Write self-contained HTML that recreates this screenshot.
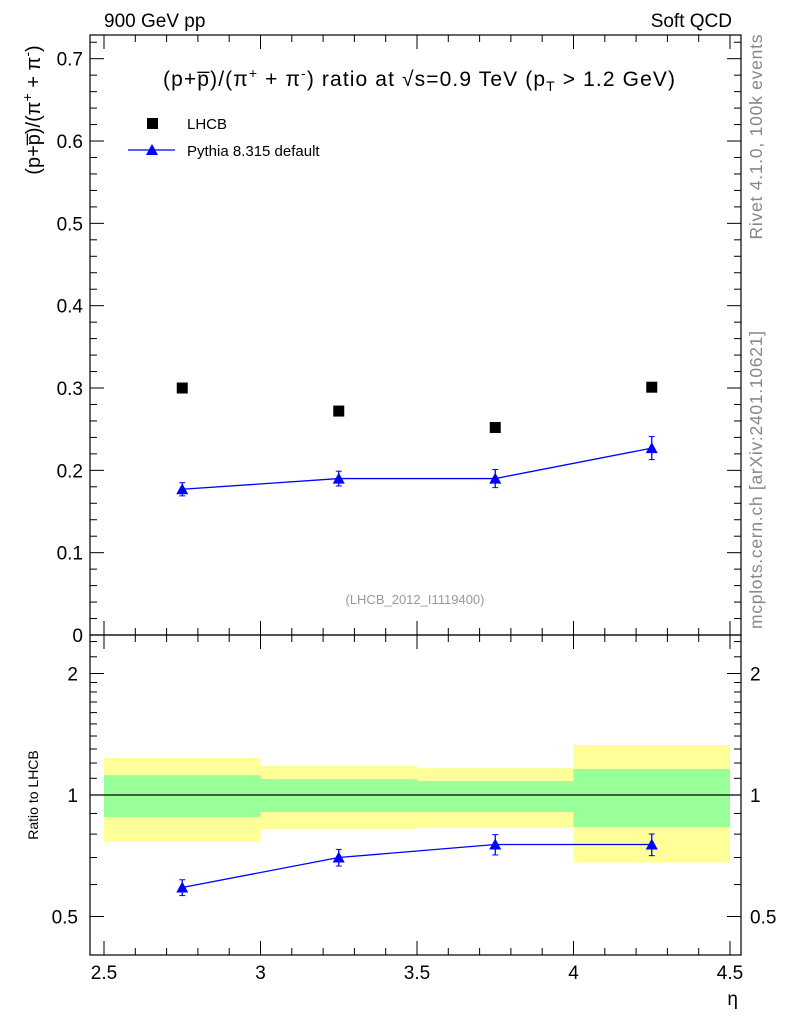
<!DOCTYPE html>
<html><head><meta charset="utf-8"><style>
body{margin:0;background:#fff;}
svg{display:block;font-family:"Liberation Sans",sans-serif;}
</style></head><body>
<svg id="chart" width="786" height="1024" viewBox="0 0 786 1024">
<text x="104" y="27" font-size="19">900 GeV pp</text>
<text x="732" y="27" font-size="19" text-anchor="end">Soft QCD</text>
<text transform="translate(762,137) rotate(-90)" font-size="17.5" fill="#888" text-anchor="middle" textLength="205">Rivet 4.1.0,  100k events</text>
<text transform="translate(762,480) rotate(-90)" font-size="17.5" fill="#888" text-anchor="middle" textLength="298">mcplots.cern.ch [arXiv:2401.10621]</text>
<text x="415" y="604" font-size="13" fill="#999" text-anchor="middle">(LHCB_2012_I1119400)</text>
<text x="163" y="86" font-size="21" textLength="512" lengthAdjust="spacing">(p+p̅)/(π<tspan font-size="14" dy="-8">+</tspan><tspan dy="8"> + π</tspan><tspan font-size="14" dy="-8">-</tspan><tspan dy="8">) ratio at √s=0.9 TeV (p</tspan><tspan font-size="14" dy="5">T</tspan><tspan dy="-5"> &gt; 1.2 GeV)</tspan></text>
<text transform="translate(40,110) rotate(-90)" font-size="20" text-anchor="middle">(p+p̅)/(π<tspan font-size="14" dy="-8">+</tspan><tspan dy="8"> + π</tspan><tspan font-size="14" dy="-8">-</tspan><tspan dy="8">)</tspan></text>
<text transform="translate(38,795) rotate(-90)" font-size="14" text-anchor="middle">Ratio to LHCB</text>
<text x="738" y="1005" font-size="19" text-anchor="end">η</text>
<rect x="147" y="118" width="11" height="11" fill="#000"/>
<text x="187" y="129" font-size="15">LHCB</text>
<line x1="128" y1="150" x2="175" y2="150" stroke="#00f" stroke-width="1.3"/>
<polygon points="146,155 158,155 152,144" fill="#00f"/>
<text x="187" y="156" font-size="15">Pythia 8.315 default</text>
<g id="g"></g>
</svg>
<script>
const binEdges=[2.5,3,3.5,4,4.5];
const binCenters=[2.75,3.25,3.75,4.25];
const lhcbValues=[0.300,0.272,0.252,0.301];
const pythiaValues=[0.177,0.190,0.190,0.227];
const pythiaErrors=[0.008,0.009,0.011,0.014];
const ratioValues=[0.59,0.70,0.754,0.754];
const greenHi=[1.12,1.095,1.083,1.16];
const greenLo=[0.882,0.908,0.908,0.833];
const yellowHi=[1.235,1.18,1.166,1.33];
const yellowLo=[0.765,0.824,0.83,0.68];
const xTicks=[2.5,3,3.5,4,4.5];
const xTickLabels=["2.5","3","3.5","4","4.5"];
const yTicks=[0,0.1,0.2,0.3,0.4,0.5,0.6,0.7];
const yTickLabels=["0","0.1","0.2","0.3","0.4","0.5","0.6","0.7"];
const rTicks=[0.5,1,2];
const rTickLabels=["0.5","1","2"];

const NS="http://www.w3.org/2000/svg";
const g=document.getElementById('g');
const X=v=>104+(v-2.5)*313;
const Y=v=>635-v*823.3;
const R=v=>795-121.5*Math.log2(v);
function mk(t,a){const e=document.createElementNS(NS,t);for(const k in a)e.setAttribute(k,a[k]);g.appendChild(e);return e;}
const L=90,Rt=741;
for(let i=0;i<4;i++){
 let e=mk('rect',{x:X(binEdges[i]),y:R(yellowHi[i]),width:X(binEdges[i+1])-X(binEdges[i]),height:R(yellowLo[i])-R(yellowHi[i]),fill:'#ffff99'});
 
 
 e=mk('rect',{x:X(binEdges[i]),y:R(greenHi[i]),width:X(binEdges[i+1])-X(binEdges[i]),height:R(greenLo[i])-R(greenHi[i]),fill:'#99ff99'});
 
 
}
let ln=mk('line',{x1:L,x2:Rt,y1:R(1),y2:R(1),stroke:'#000','stroke-width':1.2});


let f=mk('rect',{x:L,y:35,width:Rt-L,height:600,fill:'none',stroke:'#000','stroke-width':1.2});


f=mk('rect',{x:L,y:635,width:Rt-L,height:320,fill:'none',stroke:'#000','stroke-width':1.2});


for(let v=2.5;v<=4.501;v+=0.1){const maj=Math.abs(v*2-Math.round(v*2))<1e-6;const len=maj?14:7;const x=X(v);
 for(const [yb,d] of [[635,-1],[35,1],[955,-1],[635,1]]) mk('line',{x1:x,x2:x,y1:yb,y2:yb+d*len,stroke:'#000'});}
xTicks.forEach((v,i)=>{const t=mk('text',{x:X(v),y:979,'font-size':19,'text-anchor':'middle'});t.textContent=xTickLabels[i];
 
 });
for(let v=0;v<=0.721;v+=0.02){const maj=Math.abs(v*10-Math.round(v*10))<1e-6;const len=maj?14:7;const y=Y(v);
 mk('line',{x1:L,x2:L+len,y1:y,y2:y,stroke:'#000'});mk('line',{x1:Rt,x2:Rt-len,y1:y,y2:y,stroke:'#000'});}
yTicks.forEach((v,i)=>{const t=mk('text',{x:83,y:Y(v)+7,'font-size':19,'text-anchor':'end'});t.textContent=yTickLabels[i];
 
 });
[0.4,0.5,0.6,0.7,0.8,0.9,1,2].forEach(v=>{const y=R(v);if(y<636||y>955)return;const maj=rTicks.includes(v);const len=maj?14:7;
 mk('line',{x1:L,x2:L+len,y1:y,y2:y,stroke:'#000'});mk('line',{x1:Rt,x2:Rt-len,y1:y,y2:y,stroke:'#000'});});
[1.1,1.2,1.3,1.4,1.5,1.6,1.7,1.8,1.9,2.2,2.4].forEach(v=>{const y=R(v);if(y<636)return;
 mk('line',{x1:L,x2:L+7,y1:y,y2:y,stroke:'#000'});mk('line',{x1:Rt,x2:Rt-7,y1:y,y2:y,stroke:'#000'});});
rTicks.forEach((v,i)=>{for(const [x,a] of [[78,'end'],[750,'start']]){const t=mk('text',{x:x,y:R(v)+7,'font-size':19,'text-anchor':a});t.textContent=rTickLabels[i];
 
 }});
lhcbValues.forEach((v,i)=>{const r=mk('rect',{x:X(binCenters[i])-5.5,y:Y(v)-5.5,width:11,height:11,fill:'#000'});
 
 });
function series(ys,errs,name){
 const pl=mk('polyline',{points:binCenters.map((c,i)=>X(c)+','+ys[i]).join(' '),fill:'none',stroke:'#00f','stroke-width':1.3});
 
 
 binCenters.forEach((c,i)=>{const x=X(c),y=ys[i];
  mk('line',{x1:x,x2:x,y1:errs[i][0],y2:errs[i][1],stroke:'#00f','stroke-width':1.3});
  mk('line',{x1:x-3,x2:x+3,y1:errs[i][0],y2:errs[i][0],stroke:'#00f'});
  mk('line',{x1:x-3,x2:x+3,y1:errs[i][1],y2:errs[i][1],stroke:'#00f'});
  const p=mk('polygon',{points:`${x-6},${y+5} ${x+6},${y+5} ${x},${y-6}`,fill:'#00f'});
  
  });
}
series(pythiaValues.map(Y),pythiaValues.map((v,i)=>[Y(v+pythiaErrors[i]),Y(v-pythiaErrors[i])]),'pythia');
series(ratioValues.map(R),ratioValues.map((v,i)=>{const rel=pythiaErrors[i]/pythiaValues[i];return [R(v*(1+rel)),R(v*(1-rel))];}),'pythia-ratio');
</script>
</body></html>
